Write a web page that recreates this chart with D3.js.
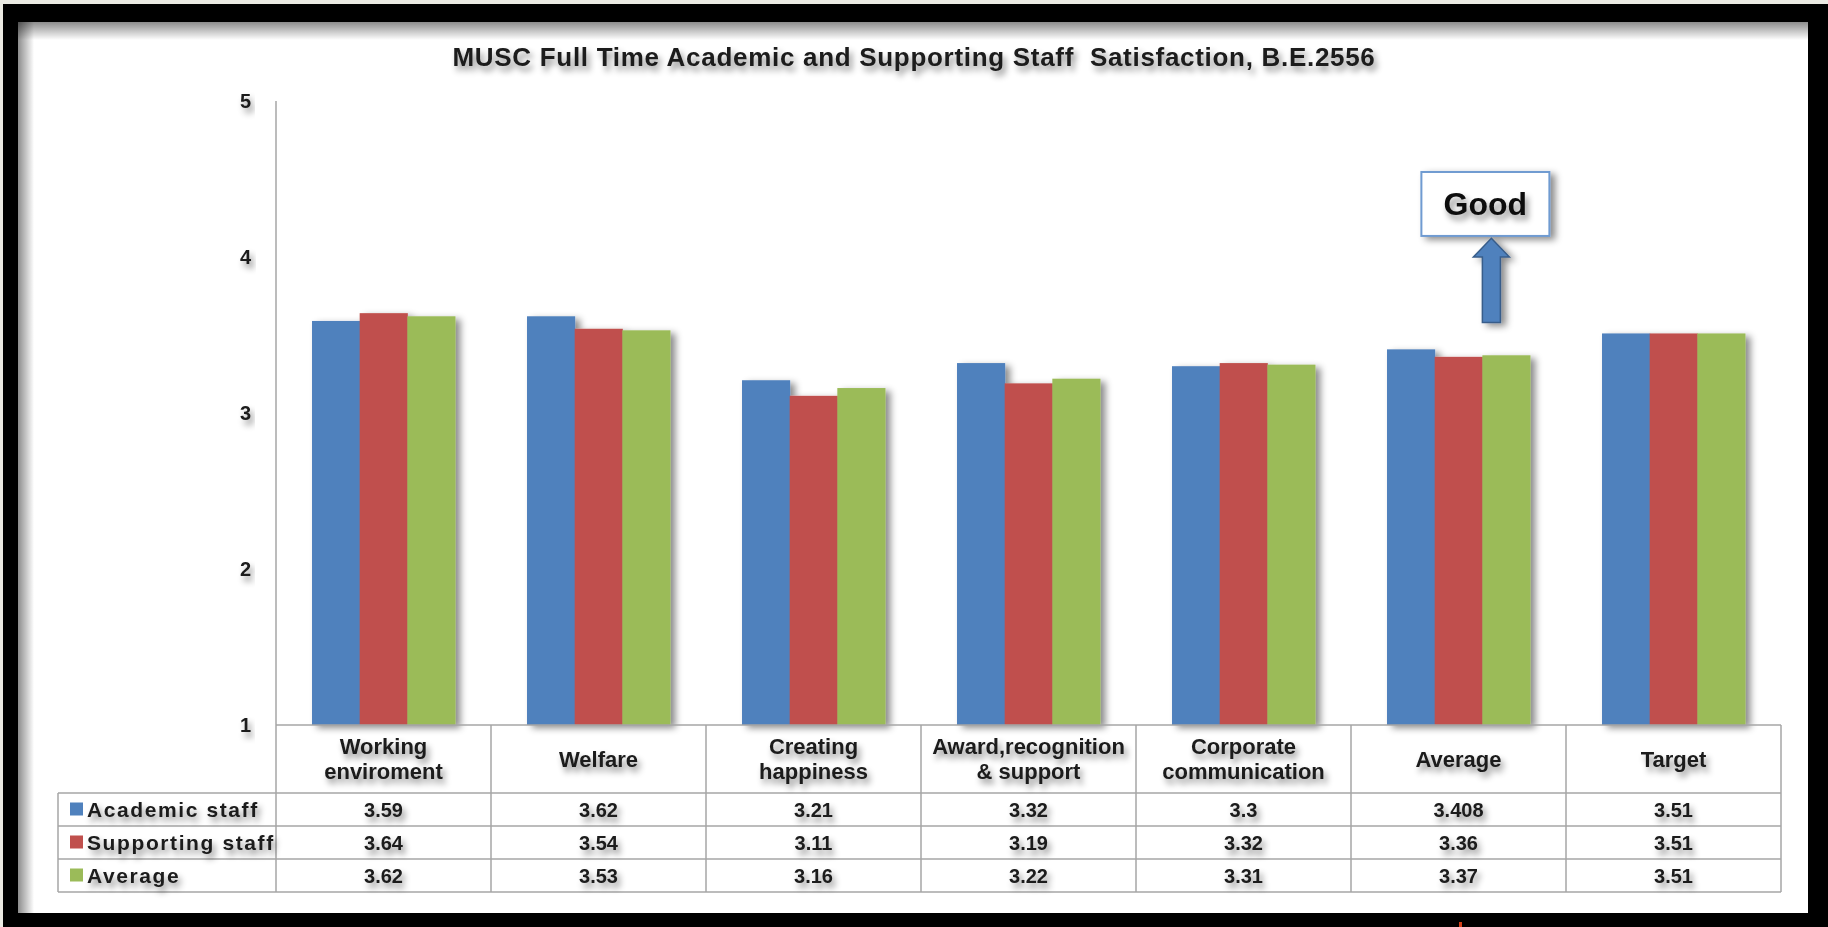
<!DOCTYPE html>
<html>
<head>
<meta charset="utf-8">
<script src="https://cdn.jsdelivr.net/npm/d3@7"></script>
<style>
  body { margin: 0; background: #ebeae3; }
  svg { display: block; font-family: "Liberation Sans", Arial, sans-serif; font-weight: bold; }
</style>
</head>
<body>
<svg id="chart" width="1828" height="927"></svg>
<script>
// DATA
const categories = ["Working\nenviroment", "Welfare", "Creating\nhappiness", "Award,recognition\n& support", "Corporate\ncommunication", "Average", "Target"];
const seriesNames = ["Academic staff", "Supporting staff", "Average"];
const academicStaff = [3.59, 3.62, 3.21, 3.32, 3.3, 3.408, 3.51];
const supportingStaff = [3.64, 3.54, 3.11, 3.19, 3.32, 3.36, 3.51];
const averageStaff = [3.62, 3.53, 3.16, 3.22, 3.31, 3.37, 3.51];
const yTicks = [1, 2, 3, 4, 5];
const colors = ["#4f81bd", "#c0504d", "#9bbb59"];
const titleText = "MUSC Full Time Academic and Supporting Staff  Satisfaction, B.E.2556";
const noteText = "Good";

const seriesValues = [academicStaff, supportingStaff, averageStaff];

// LAYOUT
const plotLeft = 276, plotRight = 1781, plotTop = 101, plotBottom = 725;
const headerBottom = 793, rowH = 33, tableLeft = 58;

const svg = d3.select("#chart");
const defs = svg.append("defs");

defs.append("filter").attr("id", "shadow")
  .attr("x", "-20%").attr("y", "-20%").attr("width", "150%").attr("height", "150%")
  .append("feDropShadow")
  .attr("dx", 5).attr("dy", 3).attr("stdDeviation", 3.5)
  .attr("flood-color", "#000").attr("flood-opacity", 0.45);

defs.append("filter").attr("id", "tshadow")
  .attr("x", "-20%").attr("y", "-40%").attr("width", "150%").attr("height", "200%")
  .append("feDropShadow")
  .attr("dx", 3).attr("dy", 5).attr("stdDeviation", 3)
  .attr("flood-color", "#000").attr("flood-opacity", 0.45);

defs.append("filter").attr("id", "lshadow")
  .attr("x", "-5%").attr("y", "-500%").attr("width", "110%").attr("height", "1100%")
  .append("feDropShadow")
  .attr("dx", 2).attr("dy", 5).attr("stdDeviation", 4)
  .attr("flood-color", "#000").attr("flood-opacity", 0.18);

const gTop = defs.append("linearGradient").attr("id", "gTop").attr("x1", 0).attr("y1", 0).attr("x2", 0).attr("y2", 1);
gTop.append("stop").attr("offset", 0).attr("stop-color", "#000").attr("stop-opacity", 0.45);
gTop.append("stop").attr("offset", 1).attr("stop-color", "#000").attr("stop-opacity", 0);
const gLeft = defs.append("linearGradient").attr("id", "gLeft").attr("x1", 0).attr("y1", 0).attr("x2", 1).attr("y2", 0);
gLeft.append("stop").attr("offset", 0).attr("stop-color", "#000").attr("stop-opacity", 0.45);
gLeft.append("stop").attr("offset", 1).attr("stop-color", "#000").attr("stop-opacity", 0);

// black frame and white panel
svg.append("rect").attr("x", 3).attr("y", 4).attr("width", 1825).attr("height", 923).attr("fill", "#000");
svg.append("rect").attr("x", 18).attr("y", 22).attr("width", 1790).attr("height", 891).attr("fill", "#fff");
svg.append("rect").attr("x", 18).attr("y", 22).attr("width", 1790).attr("height", 18).attr("fill", "url(#gTop)");
svg.append("rect").attr("x", 18).attr("y", 22).attr("width", 16).attr("height", 891).attr("fill", "url(#gLeft)");
svg.append("rect").attr("x", 1459).attr("y", 922).attr("width", 3).attr("height", 5).attr("fill", "#d2401a");

// SCALES
const x = d3.scaleBand().domain(categories).range([plotLeft, plotRight]).paddingInner(0.335).paddingOuter(0.1675);
const xs = d3.scaleBand().domain(seriesNames).range([0, x.bandwidth()]);
const y = d3.scaleLinear().domain([1, 5]).range([plotBottom, plotTop]);
const cell = d3.scaleBand().domain(categories).range([plotLeft, plotRight]);

// title
svg.append("text").attr("x", 914).attr("y", 66).attr("text-anchor", "middle")
  .attr("font-size", 26).attr("letter-spacing", 0.7).attr("fill", "#1a1a1a").attr("filter", "url(#tshadow)")
  .style("white-space", "pre").text(titleText);

// gridlines
svg.append("g").selectAll("line").data(yTicks.filter(d => d > 1)).join("line")
  .attr("x1", plotLeft).attr("x2", plotRight + 1)
  .attr("y1", d => y(d)).attr("y2", d => y(d))
  .attr("stroke", "#cdcdcd").attr("stroke-width", 2).attr("filter", "url(#lshadow)");
svg.append("line").attr("x1", plotLeft).attr("x2", plotLeft).attr("y1", y(5)).attr("y2", y(1))
  .attr("stroke", "#bcbcbc").attr("stroke-width", 2);

// y tick labels
svg.append("g").selectAll("text").data(yTicks).join("text")
  .attr("x", 251).attr("y", d => y(d)).attr("dy", "0.35em").attr("text-anchor", "end")
  .attr("font-size", 20).attr("fill", "#1a1a1a").attr("filter", "url(#tshadow)")
  .text(d => d);

// bars
const barData = categories.flatMap((c, i) => seriesNames.map((s, j) => ({ c, s, j, v: seriesValues[j][i] })));
svg.append("g").attr("filter", "url(#shadow)").selectAll("rect").data(barData).join("rect")
  .attr("x", d => x(d.c) + xs(d.s)).attr("width", xs.bandwidth() + 0.5)
  .attr("y", d => y(d.v)).attr("height", d => y(1) - y(d.v))
  .attr("fill", d => colors[d.j]);

// data table lines
const tbl = svg.append("g").attr("stroke", "#a6a6a6").attr("stroke-width", 1.5);
const rowY = seriesNames.map((s, j) => headerBottom + j * rowH);
const tableBottom = headerBottom + seriesNames.length * rowH;
tbl.append("line").attr("x1", plotLeft).attr("x2", plotRight).attr("y1", plotBottom).attr("y2", plotBottom);
tbl.selectAll(".h").data(rowY.concat([tableBottom])).join("line")
  .attr("x1", tableLeft).attr("x2", plotRight).attr("y1", d => d).attr("y2", d => d);
tbl.selectAll(".v").data(categories.map(c => cell(c)).concat([plotRight])).join("line")
  .attr("x1", d => d).attr("x2", d => d).attr("y1", plotBottom).attr("y2", tableBottom);
tbl.append("line").attr("x1", tableLeft).attr("x2", tableLeft).attr("y1", headerBottom).attr("y2", tableBottom);

// category headers
const head = svg.append("g").attr("font-size", 22).attr("fill", "#1a1a1a").attr("text-anchor", "middle").attr("filter", "url(#tshadow)");
categories.forEach(c => {
  const lines = c.split("\n");
  const cx = cell(c) + cell.bandwidth() / 2;
  const cy = (plotBottom + headerBottom) / 2;
  const t = head.append("text").attr("x", cx).attr("y", cy - (lines.length - 1) * 12.5);
  lines.forEach((l, k) => t.append("tspan").attr("x", cx).attr("dy", k === 0 ? "0.35em" : 25).text(l));
});

// legend keys + row labels
const rows = svg.append("g");
seriesNames.forEach((s, j) => {
  const cy = rowY[j] + rowH / 2;
  rows.append("rect").attr("x", 70).attr("y", cy - 7).attr("width", 13).attr("height", 13).attr("fill", colors[j]);
  rows.append("text").attr("x", 87).attr("y", cy).attr("dy", "0.36em").attr("font-size", 21).attr("letter-spacing", 1.6)
    .attr("fill", "#1a1a1a").attr("filter", "url(#tshadow)").text(s);
  rows.append("g").selectAll("text").data(categories).join("text")
    .attr("x", c => cell(c) + cell.bandwidth() / 2).attr("y", cy).attr("dy", "0.36em")
    .attr("text-anchor", "middle").attr("font-size", 20).attr("fill", "#1a1a1a").attr("filter", "url(#tshadow)")
    .text((c, i) => seriesValues[j][i]);
});

// "Good" annotation above the Average group
const ax = x("Average") + x.bandwidth() * 0.73;
const note = svg.append("g");
note.append("rect").attr("x", ax - 70).attr("y", y(4.545)).attr("width", 128).attr("height", y(4.135) - y(4.545))
  .attr("fill", "#fff").attr("stroke", "#6f9bd1").attr("stroke-width", 2).attr("filter", "url(#shadow)");
note.append("text").attr("x", ax - 6).attr("y", (y(4.545) + y(4.135)) / 2).attr("dy", "0.36em")
  .attr("text-anchor", "middle").attr("font-size", 32).attr("fill", "#111").attr("filter", "url(#tshadow)").text(noteText);
const tipY = y(4.12), headY = y(4.0), baseY = y(3.58);
note.append("path")
  .attr("d", `M${ax},${tipY} L${ax + 18},${headY} L${ax + 9},${headY} L${ax + 9},${baseY} L${ax - 9},${baseY} L${ax - 9},${headY} L${ax - 18},${headY} Z`)
  .attr("fill", "#4f81bd").attr("stroke", "#385d8a").attr("stroke-width", 1.5).attr("filter", "url(#shadow)");
</script>
</body>
</html>
